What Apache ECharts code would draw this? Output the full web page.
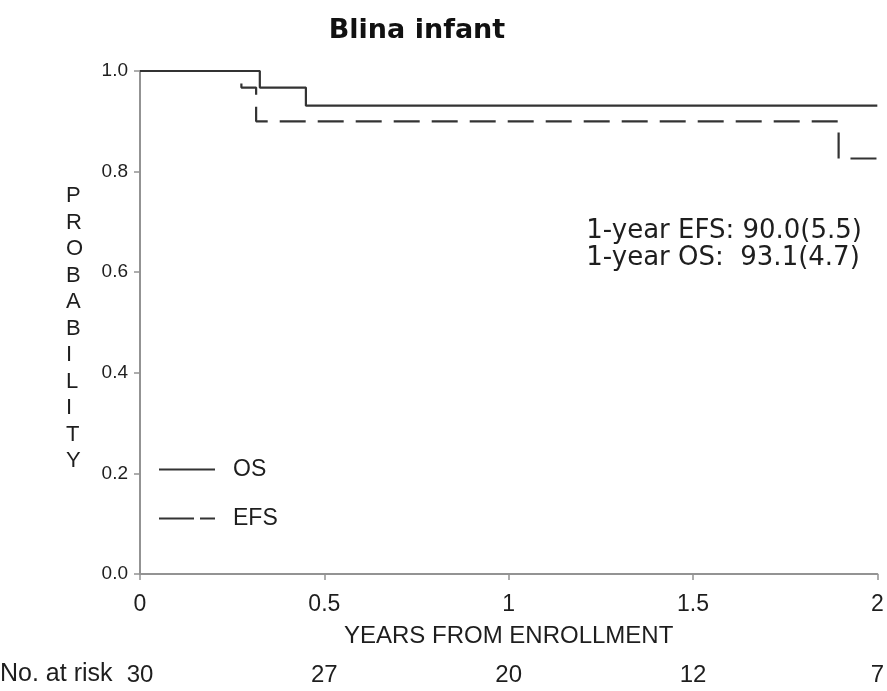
<!DOCTYPE html>
<html>
<head>
<meta charset="utf-8">
<script src="https://cdn.jsdelivr.net/npm/echarts@6/dist/echarts.min.js"></script>
<style>html,body{margin:0;padding:0;background:#fff}#c{width:887px;height:691px}</style>
</head>
<body>
<div id="c"></div>
<script>
// Kaplan-Meier estimates: [years from enrollment, probability]
const osPoints = [[0, 1.0], [0.325, 0.967], [0.45, 0.931], [2.0, 0.931]];
const efsPoints = [[0, 1.0], [0.275, 0.967], [0.315, 0.90], [1.895, 0.90], [1.895, 0.826], [2.0, 0.826]];
const atRiskTimes = [0, 0.5, 1, 1.5, 2];
const atRiskCounts = [30, 27, 20, 12, 7];
const yTicks = [0, 0.2, 0.4, 0.6, 0.8, 1.0];
const summaryLines = ['1-year EFS: 90.0(5.5)', '1-year OS:  93.1(4.7)'];

const chart = echarts.init(document.getElementById('c'), null, {renderer: 'canvas'});
const axisGray = '#939393';
const lineColor = '#333333';
const textColor = '#1e1e1e';
const sans = 'Liberation Sans, Arial, sans-serif';

chart.setOption({
  animation: false,
  backgroundColor: '#fff',
  title: {
    text: 'Blina infant',
    left: 412, top: 12, textAlign: 'center',
    textStyle: {fontFamily: 'DejaVu Sans', fontWeight: 'bold', fontSize: 27, color: '#111'}
  },
  grid: {left: 140, right: 9, top: 71, bottom: 117},
  legend: {
    orient: 'vertical', left: 153, top: 453, itemGap: 26,
    itemWidth: 56, itemHeight: 20,
    itemStyle: {opacity: 0},
    textStyle: {fontFamily: sans, fontSize: 23, color: textColor, padding: [0, 0, 0, 13]},
    data: [
      {name: 'OS'},
      {name: 'EFS', lineStyle: {type: [35, 6]}}
    ]
  },
  xAxis: [{
    type: 'value', min: 0, max: 2, interval: 0.5,
    axisLine: {show: true, lineStyle: {color: axisGray, width: 2}},
    axisTick: {show: true, length: 6, lineStyle: {color: axisGray, width: 1.5}},
    splitLine: {show: false},
    axisLabel: {fontFamily: sans, fontSize: 23, color: textColor, margin: 19,
      formatter: v => String(v)},
    name: 'YEARS FROM ENROLLMENT', nameLocation: 'middle', nameGap: 50,
    nameTextStyle: {fontFamily: sans, fontSize: 24, color: textColor}
  }, {
    type: 'value', min: 0, max: 2, interval: 0.5, position: 'bottom', offset: 89,
    axisLine: {show: false}, axisTick: {show: false}, splitLine: {show: false},
    axisLabel: {fontFamily: sans, fontSize: 24, color: textColor, margin: 0,
      formatter: v => {
        const i = atRiskTimes.findIndex(t => Math.abs(t - v) < 1e-9);
        return i >= 0 ? String(atRiskCounts[i]) : '';
      }}
  }],
  yAxis: {
    type: 'value', min: 0, max: 1, interval: 0.2,
    axisLine: {show: true, lineStyle: {color: axisGray, width: 2}},
    axisTick: {show: true, length: 6, lineStyle: {color: axisGray, width: 1.5}},
    splitLine: {show: false},
    axisLabel: {fontFamily: sans, fontSize: 19, color: textColor, margin: 12,
      formatter: v => yTicks.some(t => Math.abs(t - v) < 1e-9) ? v.toFixed(1) : ''}
  },
  graphic: [
    {
      type: 'text', left: 0, top: 662,
      style: {text: 'No. at risk', fontFamily: sans, fontSize: 25, fill: textColor}
    },
    {
      type: 'text', left: 66, top: 183,
      style: {text: 'PROBABILITY'.split('').join('\n'), fontFamily: sans, fontSize: 22,
        lineHeight: 26.5, fill: textColor, align: 'center'}
    },
    {
      type: 'text', right: 25, top: 218,
      style: {text: summaryLines.join('\n'), fontFamily: 'DejaVu Sans', fontSize: 26,
        lineHeight: 27, fill: textColor}
    }
  ],
  series: [
    {
      name: 'OS', type: 'line', step: 'end', data: osPoints, xAxisIndex: 0,
      symbol: 'none', color: lineColor,
      lineStyle: {color: lineColor, width: 2.2, type: 'solid'}
    },
    {
      name: 'EFS', type: 'line', step: 'end', data: efsPoints, xAxisIndex: 0,
      symbol: 'none', color: lineColor,
      lineStyle: {color: lineColor, width: 2.2, type: [26, 12]}
    }
  ]
});
</script>
</body>
</html>
